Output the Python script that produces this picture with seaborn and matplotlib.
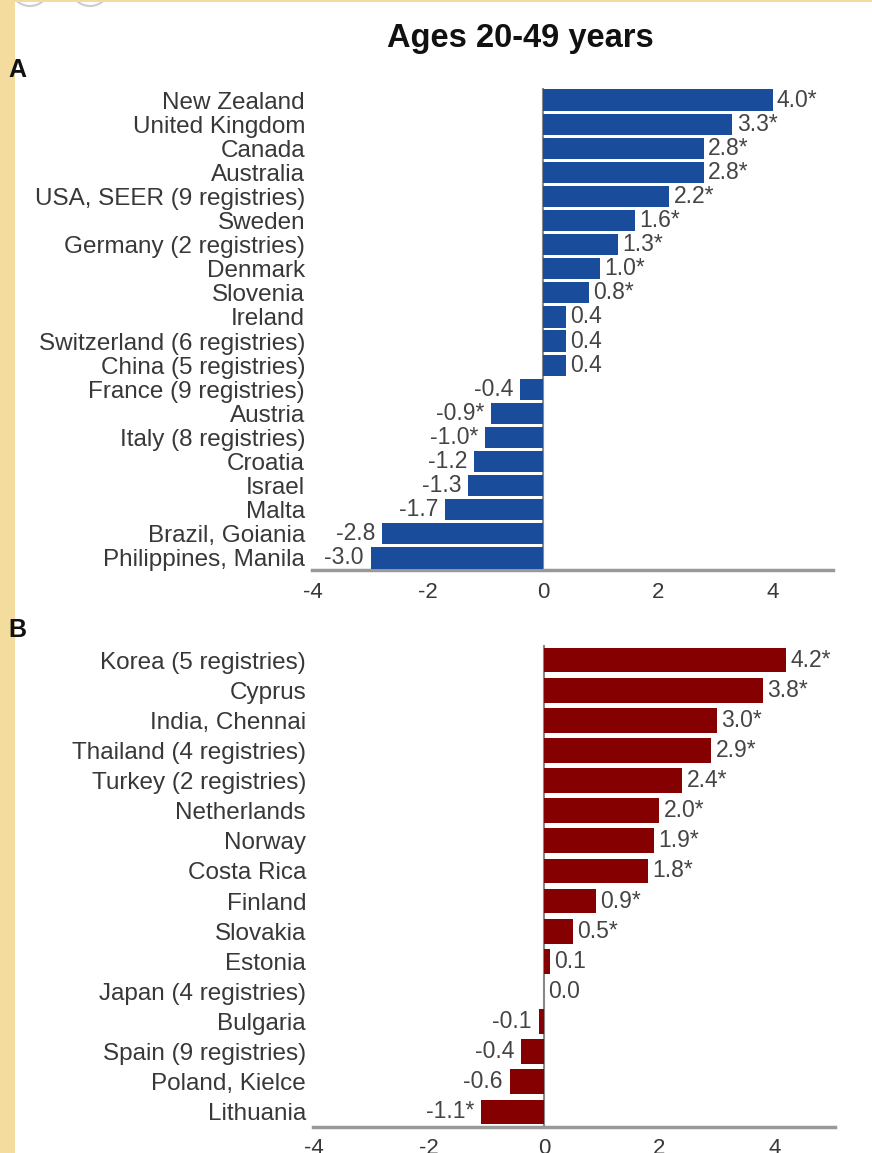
import numpy as np
import pandas as pd
import matplotlib
matplotlib.use("Agg")
import matplotlib.pyplot as plt
from matplotlib.patches import Rectangle, Circle
import seaborn as sns

# --- datos ---
countries_a = ["New Zealand", "United Kingdom", "Canada", "Australia",
               "USA, SEER (9 registries)", "Sweden", "Germany (2 registries)",
               "Denmark", "Slovenia", "Ireland", "Switzerland (6 registries)",
               "China (5 registries)", "France (9 registries)", "Austria",
               "Italy (8 registries)", "Croatia", "Israel", "Malta",
               "Brazil, Goiania", "Philippines, Manila"]
values_a = [4.0, 3.3, 2.8, 2.8, 2.2, 1.6, 1.3, 1.0, 0.8, 0.4, 0.4, 0.4,
            -0.4, -0.9, -1.0, -1.2, -1.3, -1.7, -2.8, -3.0]
sig_a = [True, True, True, True, True, True, True, True, True, False, False, False,
         False, True, True, False, False, False, False, False]

countries_b = ["Korea (5 registries)", "Cyprus", "India, Chennai",
               "Thailand (4 registries)", "Turkey (2 registries)", "Netherlands",
               "Norway", "Costa Rica", "Finland", "Slovakia", "Estonia",
               "Japan (4 registries)", "Bulgaria", "Spain (9 registries)",
               "Poland, Kielce", "Lithuania"]
values_b = [4.2, 3.8, 3.0, 2.9, 2.4, 2.0, 1.9, 1.8, 0.9, 0.5, 0.1, 0.0,
            -0.1, -0.4, -0.6, -1.1]
sig_b = [True, True, True, True, True, True, True, True, True, True, False, False,
         False, False, False, True]

xticks = [-4, -2, 0, 2, 4]

W, H = 872, 1153
BEIGE = "#f4dc9e"
TXT = "#383838"

sns.set_style("white")
plt.rcParams["font.family"] = ["Liberation Sans", "DejaVu Sans"]

fig = plt.figure(figsize=(W / 100, H / 100), dpi=100)


def px_axes(left, top, right, bottom):
    return fig.add_axes([left / W, 1 - bottom / H, (right - left) / W, (bottom - top) / H])


def panel(ax, countries, values, sig, color, bar_w, xpad):
    df = pd.DataFrame({"pais": countries, "valor": values})
    sns.barplot(data=df, x="valor", y="pais", orient="h", color=color,
                width=bar_w, saturation=1, linewidth=0, ax=ax, zorder=3)
    ax.set_xlim(-4.02, 5.05)
    ax.set_ylim(len(countries) - 0.5, -0.5)
    ax.axvline(0, color="#888888", lw=1.5, zorder=2)
    for i, (v, s) in enumerate(zip(values, sig)):
        lab = f"{v:.1f}" + ("*" if s else "")
        if v >= 0:
            ax.annotate(lab, (v, i), xytext=(3, 0), textcoords="offset points",
                        ha="left", va="center", fontsize=16.5, color="#444444")
        else:
            ax.annotate(lab, (v, i), xytext=(-5, 0), textcoords="offset points",
                        ha="right", va="center", fontsize=16.5, color="#444444")
    ax.set_xlabel("")
    ax.set_ylabel("")
    ax.set_xticks(xticks)
    ax.set_xticklabels([str(t) for t in xticks])
    ax.tick_params(axis="x", length=0, pad=xpad, labelsize=16, labelcolor=TXT)
    ax.tick_params(axis="y", length=0, pad=5, labelsize=17.5, labelcolor=TXT)
    for sp in ["top", "right", "left"]:
        ax.spines[sp].set_visible(False)
    ax.spines["bottom"].set_color("#999999")
    ax.spines["bottom"].set_linewidth(2.5)
    ax.set_facecolor("none")


# panel A
ax_a = px_axes(312, 88, 833, 570)
panel(ax_a, countries_a, values_a, sig_a, "#1a4c9c", 0.88, 9)

# panel B
ax_b = px_axes(313, 645, 835, 1127)
panel(ax_b, countries_b, values_b, sig_b, "#850000", 0.82, 8)

fig.text(520 / W, 1 - 38 / H, "Ages 20-49 years", ha="center", va="center",
         fontsize=23.5, fontweight="bold", color="#111111")

# marco de la captura
bg = fig.add_axes([0, 0, 1, 1], zorder=10)
bg.set_xlim(0, W)
bg.set_ylim(H, 0)
bg.axis("off")
bg.patch.set_alpha(0)
bg.text(8, 70, "A", fontsize=18, fontweight="bold", ha="left", va="center", color="#111111")
bg.text(8, 630, "B", fontsize=18, fontweight="bold", ha="left", va="center", color="#111111")
bg.add_patch(Circle((30, -14), 20, fill=False, ec="#cccccc", lw=1.5))
bg.add_patch(Circle((90, -14), 20, fill=False, ec="#cccccc", lw=1.5))
bg.add_patch(Rectangle((0, 0), 15, H, color=BEIGE, lw=0))
bg.add_patch(Rectangle((0, 0), W, 2, color=BEIGE, lw=0))

fig.savefig("out.png", dpi=100)
